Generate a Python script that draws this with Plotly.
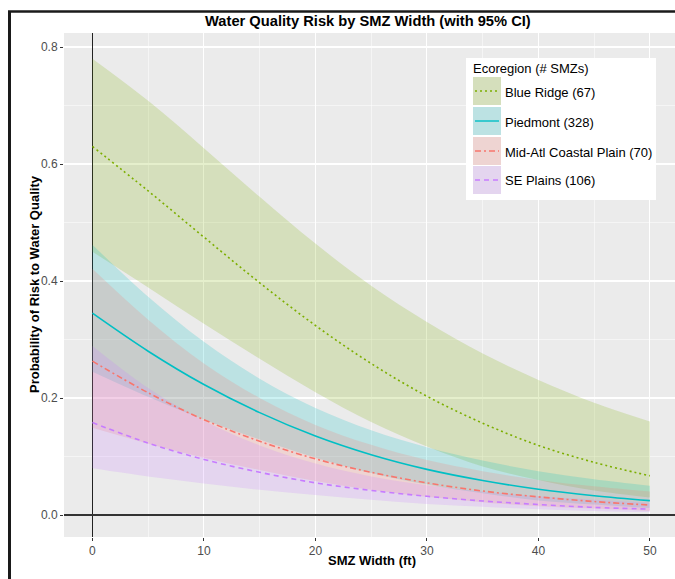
import plotly.graph_objects as go

# ---- data ----
width_ft = [0, 5, 10, 15, 20, 25, 30, 35, 40, 45, 50]

regions = ["Blue Ridge (67)", "Piedmont (328)", "Mid-Atl Coastal Plain (70)", "SE Plains (106)"]

br_mean = [0.630, 0.554, 0.475, 0.397, 0.324, 0.259, 0.203, 0.157, 0.119, 0.090, 0.067]
br_lo   = [0.450, 0.389, 0.327, 0.267, 0.210, 0.159, 0.117, 0.083, 0.060, 0.042, 0.030]
br_hi   = [0.780, 0.708, 0.627, 0.544, 0.464, 0.392, 0.330, 0.276, 0.231, 0.192, 0.160]

pd_mean = [0.345, 0.280, 0.223, 0.175, 0.135, 0.103, 0.078, 0.059, 0.044, 0.033, 0.0245]
pd_lo   = [0.245, 0.202, 0.163, 0.129, 0.098, 0.072, 0.052, 0.037, 0.025, 0.018, 0.012]
pd_hi   = [0.462, 0.373, 0.296, 0.233, 0.183, 0.145, 0.116, 0.093, 0.075, 0.061, 0.050]

ma_mean = [0.263, 0.209, 0.163, 0.126, 0.096, 0.073, 0.055, 0.041, 0.031, 0.023, 0.017]
ma_lo   = [0.149, 0.122, 0.098, 0.077, 0.058, 0.043, 0.031, 0.022, 0.015, 0.011, 0.007]
ma_hi   = [0.421, 0.334, 0.259, 0.200, 0.154, 0.120, 0.094, 0.075, 0.060, 0.049, 0.040]

se_mean = [0.158, 0.123, 0.095, 0.073, 0.055, 0.042, 0.032, 0.024, 0.018, 0.013, 0.010]
se_lo   = [0.080, 0.066, 0.054, 0.043, 0.034, 0.026, 0.019, 0.014, 0.010, 0.007, 0.005]
se_hi   = [0.289, 0.217, 0.161, 0.119, 0.088, 0.066, 0.051, 0.040, 0.032, 0.026, 0.021]

x_ticks = [0, 10, 20, 30, 40, 50]
y_ticks = [0.0, 0.2, 0.4, 0.6, 0.8]

# ---- styles ----
colors = ["#7CAE00", "#00BFC4", "#F8766D", "#C77CFF"]
fills = ["rgba(124,174,0,0.2)", "rgba(0,191,196,0.2)", "rgba(248,118,109,0.2)", "rgba(199,124,255,0.2)"]
dashes = ["2px,3px", "solid", "6px,3px,2px,3px", "5px,4px"]
FONT = "Liberation Sans, Arial, sans-serif"

means = [br_mean, pd_mean, ma_mean, se_mean]
lows = [br_lo, pd_lo, ma_lo, se_lo]
highs = [br_hi, pd_hi, ma_hi, se_hi]

W, H = 675, 579
ML, MR, MT, MB = 64, 0, 33, 42
PW, PH = W - ML - MR, H - MT - MB

def px(xp):
    return (xp - ML) / PW

def py(yp):
    return (H - MB - yp) / PH

fig = go.Figure()

for i in range(4):
    fig.add_trace(go.Scatter(x=width_ft, y=lows[i], mode="lines", line=dict(width=0, shape="spline"),
                             showlegend=False, hoverinfo="skip"))
    fig.add_trace(go.Scatter(x=width_ft, y=highs[i], mode="lines", line=dict(width=0, shape="spline"),
                             fill="tonexty", fillcolor=fills[i], showlegend=False, hoverinfo="skip"))

for i in range(4):
    fig.add_trace(go.Scatter(x=width_ft, y=means[i], mode="lines", name=regions[i],
                             line=dict(color=colors[i], width=1.6, dash=dashes[i], shape="spline"),
                             showlegend=False))

shapes = []
annotations = []

# outer frame (top and left black border)
shapes.append(dict(type="line", xref="paper", yref="paper", x0=px(8), x1=px(W), y0=py(11.5), y1=py(11.5),
                   line=dict(color="#1a1a1a", width=2.5)))
shapes.append(dict(type="line", xref="paper", yref="paper", x0=px(9.5), x1=px(9.5), y0=py(11), y1=py(H),
                   line=dict(color="#1a1a1a", width=3)))

# manual legend
shapes.append(dict(type="rect", xref="paper", yref="paper", x0=px(466), x1=px(656), y0=py(200), y1=py(58),
                   fillcolor="white", line=dict(width=0), layer="above"))
key_tops = [77, 107, 137, 166]
key_h = 28
for i in range(4):
    t = key_tops[i]
    shapes.append(dict(type="rect", xref="paper", yref="paper", x0=px(473), x1=px(501), y0=py(t + key_h), y1=py(t),
                       fillcolor="#EBEBEB", line=dict(width=0), layer="above"))
    shapes.append(dict(type="rect", xref="paper", yref="paper", x0=px(473), x1=px(501), y0=py(t + key_h), y1=py(t),
                       fillcolor=fills[i], line=dict(width=0), layer="above"))
    yc = t + key_h / 2
    shapes.append(dict(type="line", xref="paper", yref="paper", x0=px(475), x1=px(499), y0=py(yc), y1=py(yc),
                       line=dict(color=colors[i], width=1.4, dash=dashes[i]), layer="above"))
    annotations.append(dict(text=regions[i], xref="paper", yref="paper", x=px(503), y=py(yc + 1),
                            xanchor="left", yanchor="middle", showarrow=False,
                            font=dict(family=FONT, size=13, color="black")))
annotations.append(dict(text="Ecoregion (# SMZs)", xref="paper", yref="paper", x=px(471), y=py(69),
                        xanchor="left", yanchor="middle", showarrow=False,
                        font=dict(family=FONT, size=13, color="black")))

# titles
annotations.append(dict(text="<b>Water Quality Risk by SMZ Width (with 95% CI)</b>", xref="paper", yref="paper",
                        x=px(368), y=py(21), xanchor="center", yanchor="middle", showarrow=False,
                        font=dict(family=FONT, size=14.7, color="black")))
annotations.append(dict(text="<b>SMZ Width (ft)</b>", xref="paper", yref="paper",
                        x=px(372), y=py(560), xanchor="center", yanchor="middle", showarrow=False,
                        font=dict(family=FONT, size=13, color="black")))
annotations.append(dict(text="<b>Probability of Risk to Water Quality</b>", xref="paper", yref="paper",
                        x=px(34), y=py(284), xanchor="center", yanchor="middle", showarrow=False, textangle=-90,
                        font=dict(family=FONT, size=13, color="black")))

fig.update_layout(
    width=W, height=H,
    margin=dict(l=ML, r=MR, t=MT, b=MB),
    paper_bgcolor="white",
    plot_bgcolor="#EBEBEB",
    font=dict(family=FONT, size=12, color="#4D4D4D"),
    shapes=shapes,
    annotations=annotations,
    showlegend=False,
    hovermode=False,
    xaxis=dict(range=[-2.55, 52.25], tickvals=x_ticks, ticktext=[str(v) for v in x_ticks],
               showgrid=True, gridcolor="white", gridwidth=1.1,
               minor=dict(dtick=5, tick0=0, showgrid=True, gridcolor="white", gridwidth=0.5, ticks=""),
               ticks="outside", ticklen=3, tickcolor="#333333", tickwidth=1,
               zeroline=True, zerolinecolor="#222222", zerolinewidth=1,
               showline=False, tickfont=dict(family=FONT, size=12, color="#4D4D4D")),
    yaxis=dict(range=[-0.0376, 0.824], tickvals=y_ticks, ticktext=["%.1f" % v for v in y_ticks],
               showgrid=True, gridcolor="white", gridwidth=1.1,
               minor=dict(dtick=0.1, tick0=0, showgrid=True, gridcolor="white", gridwidth=0.5, ticks=""),
               ticks="outside", ticklen=3, tickcolor="#333333", tickwidth=1,
               zeroline=True, zerolinecolor="#333333", zerolinewidth=1.2,
               showline=False, tickfont=dict(family=FONT, size=12, color="#4D4D4D")),
)

fig.write_html("out.html", config={"displayModeBar": False, "staticPlot": True},
               post_script="document.body.style.margin='0';document.body.style.padding='0';")
